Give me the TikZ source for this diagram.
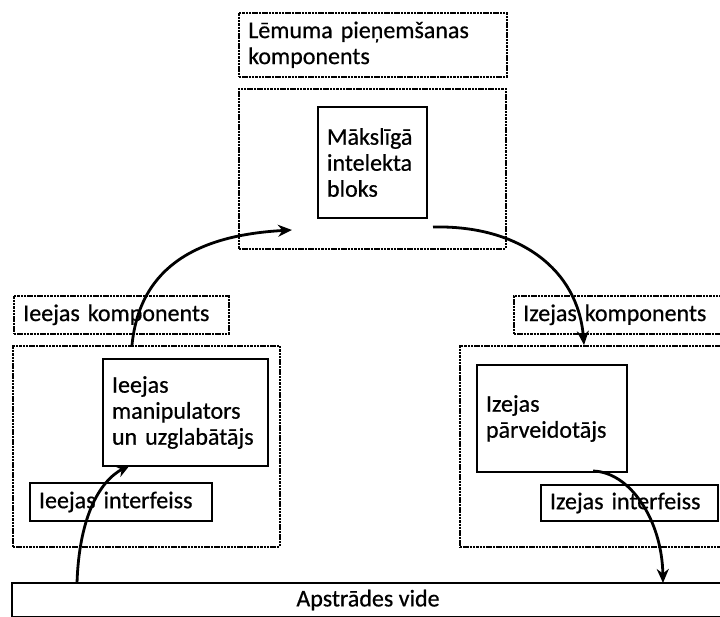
\documentclass[tikz,border=0pt]{standalone}
\usepackage{fontspec}
\setmainfont{Carlito}[FakeBold=0.6]
\usetikzlibrary{arrows.meta}
\begin{document}
\begin{tikzpicture}[x=1pt,y=-1pt,
  every node/.style={font=\fontsize{24}{26}\selectfont},
  dbox/.style={draw, dash pattern=on 2.5pt off 0.8pt, line width=1.5pt, inner xsep=9.5pt, inner ysep=0pt, align=left, anchor=north west},
  sbox/.style={draw, line width=2pt, inner xsep=9pt, inner ysep=0pt, align=left, anchor=north west},
  flow/.style={line width=2.8pt, -{Stealth[length=14pt,width=12pt]}}
]
\useasboundingbox (0,0) rectangle (720,616);
\clip (0,0) rectangle (720,616);

% decision component
\node[dbox, text width=249pt, minimum height=64pt] (lemlabel) at (238,12) {Lēmuma pieņemšanas\\komponents};
\node[dbox, minimum width=267pt, minimum height=160pt, inner sep=0pt] (lembig) at (238,88) {};
\node[sbox, text width=91pt, minimum height=111pt] (ai) at (317,106) {Mākslīgā\\intelekta\\bloks};

% input component
\node[dbox, text width=196pt, minimum height=38pt] (inlabel) at (13,295) {Ieejas komponents};
\node[dbox, minimum width=267pt, minimum height=201pt, inner sep=0pt] (inbig) at (12,345) {};
\node[sbox, text width=147pt, minimum height=107pt] (manip) at (102,358) {Ieejas\\manipulators\\un uzglabātājs};
\node[sbox, text width=164pt, minimum height=38pt] (inif) at (29,482) {Ieejas interfeiss};

% output component
\node[dbox, text width=193pt, minimum height=38pt] (outlabel) at (513,295) {Izejas komponents};
\node[dbox, minimum width=266pt, minimum height=201pt, inner sep=0pt] (outbig) at (459,345) {};
\node[sbox, text width=132pt, minimum height=107pt] (conv) at (476,364) {Izejas\\pārveidotājs};
\node[sbox, text width=159pt, minimum height=36pt] (outif) at (540,484) {Izejas interfeiss};

% environment
\node[draw, line width=2pt, minimum width=712pt, minimum height=34pt, inner sep=0pt] (env) at (368,600) {Apstrādes vide};

% connector end points
\coordinate (p1) at (132,345);
\coordinate (p2) at (292,230);
\coordinate (p3) at (433,227);
\coordinate (p4) at (584,345);
\coordinate (p5) at (77,583);
\coordinate (p6) at (130,465);
\coordinate (p7) at (593,471);
\coordinate (p8) at (663,583);

\draw[flow] (p1) .. controls (140,265) and (200,235) .. (p2);
\draw[flow] (p3) .. controls (520,225) and (578,270) .. (p4);
\draw[flow] (p5) .. controls (79,520) and (98,482) .. (p6);
\draw[flow] (p7) .. controls (630,472) and (662,520) .. (p8);
\end{tikzpicture}
\end{document}
